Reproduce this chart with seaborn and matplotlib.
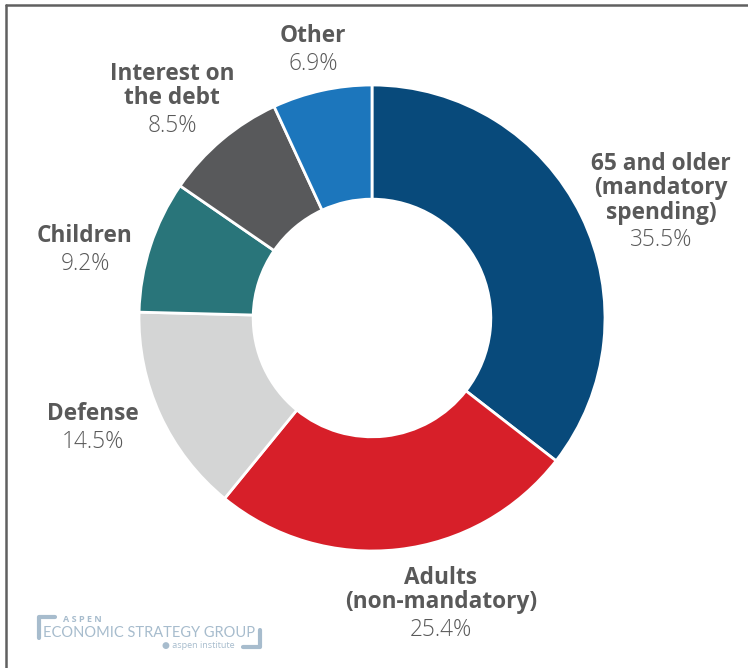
import matplotlib
matplotlib.use("Agg")
import matplotlib.pyplot as plt
import seaborn as sns
from matplotlib.lines import Line2D

categories = ["65 and older\n(mandatory\nspending)", "Adults\n(non-mandatory)", "Defense",
              "Children", "Interest on\nthe debt", "Other"]
values = [35.5, 25.4, 14.5, 9.2, 8.5, 6.9]
colors = ["#084a7b", "#d71f29", "#d4d5d5", "#29757a", "#58595b", "#1c76bc"]

sns.set_theme(style="white")
plt.rcParams['font.family'] = ['Open Sans', 'DejaVu Sans']

W, H = 748, 668
fig = plt.figure(figsize=(W / 100, H / 100), dpi=100)
fig.patch.set_facecolor("white")

cx, cy, r = 372, 318, 233
ax = fig.add_axes([(cx - r) / W, (H - cy - r) / H, 2 * r / W, 2 * r / H])
wedges, _ = ax.pie(values, colors=colors, startangle=90, counterclock=False,
                   radius=1.0,
                   wedgeprops=dict(width=0.49, edgecolor="white", linewidth=2))
ax.set_xlim(-1.0, 1.0)
ax.set_ylim(-1.0, 1.0)
ax.set_aspect("equal")
ax.axis("off")

# label positions in pixels (title top-line y, x center)
label_pos = {
    0: (661, 164),
    1: (441, 578),
    2: (93, 414),
    3: (85, 236),
    4: (172, 74),
    5: (313, 36),
}
lh = 24.5
txt_color = "#595959"
for i, (cat, v) in enumerate(zip(categories, values)):
    x, y = label_pos[i]
    lines = cat.split("\n")
    for j, ln in enumerate(lines):
        fig.text(x / W, 1 - (y + j * lh) / H, ln, ha="center", va="center",
                 fontsize=16.3, fontweight="bold", color=txt_color)
    yp = y + len(lines) * lh + 3
    fig.text(x / W, 1 - yp / H, f"{v:.1f}%", ha="center", va="center",
             fontsize=16.3, fontweight="light", color=txt_color)

# frame lines (left and top)
fig.add_artist(Line2D([6 / W, 6 / W], [0, 1 - 5 / H], color="#606060", lw=1.8,
                      transform=fig.transFigure))
fig.add_artist(Line2D([6 / W, 1], [1 - 5 / H, 1 - 5 / H], color="#606060", lw=1.8,
                      transform=fig.transFigure))

# logo
lc = "#a7bccd"
fig.text(82 / W, 1 - 619 / H, "A S P E N", fontsize=6.5, fontweight="bold",
         color=lc, ha="center", va="center")
fig.text(149 / W, 1 - 633 / H, "ECONOMIC STRATEGY GROUP", fontsize=10.5,
         color=lc, ha="center", va="center", family=["Lato", "DejaVu Sans"])
fig.text(198 / W, 1 - 646 / H, "\u25cf aspen institute", fontsize=6.5,
         color=lc, ha="center", va="center")
fig.add_artist(Line2D([39 / W, 39 / W, 55 / W], [1 - 638 / H, 1 - 617 / H, 1 - 617 / H],
                      color=lc, lw=3, transform=fig.transFigure))
fig.add_artist(Line2D([243 / W, 260 / W, 260 / W], [1 - 647 / H, 1 - 647 / H, 1 - 630 / H],
                      color=lc, lw=3, transform=fig.transFigure))

fig.savefig("out.png", dpi=100, facecolor="white")
